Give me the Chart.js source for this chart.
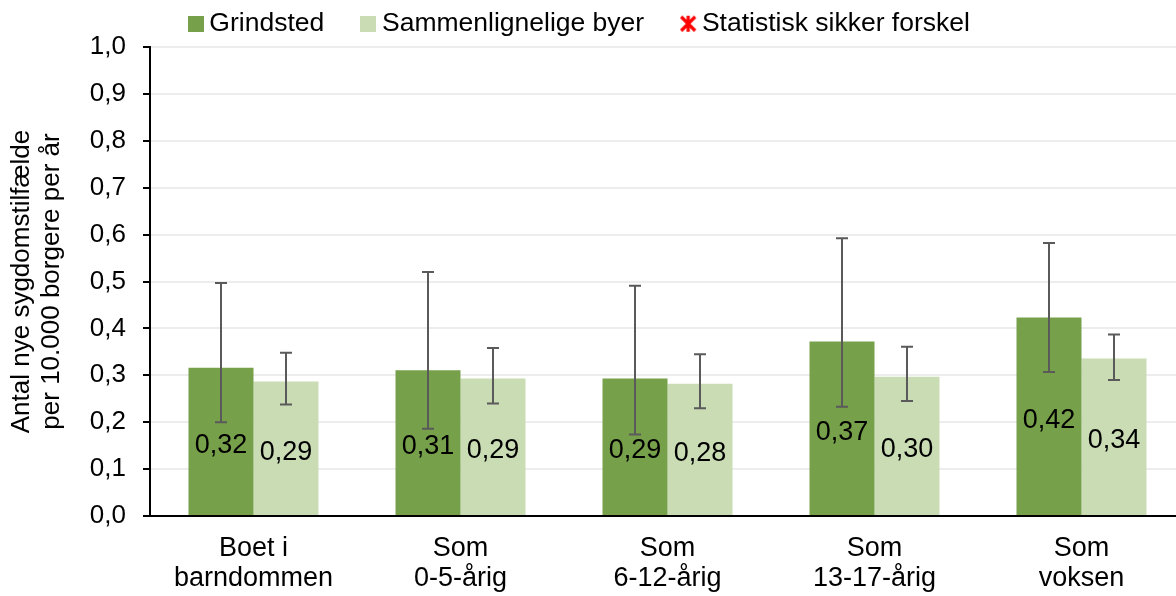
<!DOCTYPE html>
<html><head><meta charset="utf-8">
<script src="https://cdn.jsdelivr.net/npm/chart.js@4"></script>
<style>
html,body{margin:0;padding:0;overflow:hidden;background:#fff;width:1176px;height:596px;}
#wrap{position:absolute;left:-20px;top:-33px;width:1205px;height:629px;}
</style></head><body>
<div id="wrap"><canvas id="c" width="1205" height="629"></canvas></div>
<script>
// ---- data ----
const categories = [["Boet i","barndommen"],["Som","0-5-årig"],["Som","6-12-årig"],["Som","13-17-årig"],["Som","voksen"]];
const seriesNames = ["Grindsted","Sammenlignelige byer"];
const noteLabel = "Statistisk sikker forskel";
const grindsted     = [0.316,0.311,0.293,0.372,0.423];
const grindstedLow  = [0.200,0.186,0.174,0.233,0.307];
const grindstedHigh = [0.497,0.520,0.491,0.592,0.582];
const comparable     = [0.287,0.293,0.282,0.297,0.336];
const comparableLow  = [0.238,0.240,0.230,0.245,0.290];
const comparableHigh = [0.348,0.358,0.345,0.361,0.387];
const yTickLabels = ["0,0","0,1","0,2","0,3","0,4","0,5","0,6","0,7","0,8","0,9","1,0"];
const yTitle = ["Antal nye sygdomstilfælde","per 10.000 borgere per år"];

// ---- styles ----
const FONT = '"Liberation Sans", Arial, sans-serif';
const darkGreen = '#77A04A';
const lightGreen = '#C9DCB4';

function squareMarker(color){
  const c = document.createElement('canvas'); c.width = 16; c.height = 16;
  const x = c.getContext('2d'); x.fillStyle = color; x.fillRect(0,0,16,16); return c;
}
function starMarker(){
  const c = document.createElement('canvas'); c.width = 18; c.height = 18;
  const x = c.getContext('2d'); x.strokeStyle = '#FF0000'; x.lineWidth = 3.2; x.lineCap = 'butt';
  x.beginPath();
  x.moveTo(2,2); x.lineTo(16,16);
  x.moveTo(16,2); x.lineTo(2,16);
  x.moveTo(9,1); x.lineTo(9,17);
  x.stroke(); return c;
}
const markers = [squareMarker(darkGreen), squareMarker(lightGreen), starMarker()];

const errorBarPlugin = {
  id: 'errorBars',
  afterDatasetsDraw(chart){
    const ctx = chart.ctx, y = chart.scales.y;
    ctx.save();
    chart.data.datasets.forEach((ds, di) => {
      const meta = chart.getDatasetMeta(di);
      meta.data.forEach((bar, i) => {
        const yl = y.getPixelForValue(ds.errLow[i]);
        const yh = y.getPixelForValue(ds.errHigh[i]);
        ctx.strokeStyle = '#5A5A5A'; ctx.lineWidth = 2;
        ctx.beginPath();
        ctx.moveTo(bar.x, yl); ctx.lineTo(bar.x, yh);
        ctx.moveTo(bar.x - 6, yl); ctx.lineTo(bar.x + 6, yl);
        ctx.moveTo(bar.x - 6, yh); ctx.lineTo(bar.x + 6, yh);
        ctx.stroke();
      });
    });
    chart.data.datasets.forEach((ds, di) => {
      const meta = chart.getDatasetMeta(di);
      meta.data.forEach((bar, i) => {
        ctx.font = '27px ' + FONT; ctx.fillStyle = '#000';
        ctx.textAlign = 'center'; ctx.textBaseline = 'middle';
        ctx.fillText(ds.data[i].toFixed(2).replace('.', ','), bar.x, (bar.y + bar.base) / 2 + 4);
      });
    });
    ctx.restore();
  }
};

new Chart(document.getElementById('c'), {
  type: 'bar',
  data: {
    labels: categories,
    datasets: [
      {label: seriesNames[0], data: grindsted, errLow: grindstedLow, errHigh: grindstedHigh,
       backgroundColor: darkGreen, borderWidth: 0, categoryPercentage: 0.628, barPercentage: 1},
      {label: seriesNames[1], data: comparable, errLow: comparableLow, errHigh: comparableHigh,
       backgroundColor: lightGreen, borderWidth: 0, categoryPercentage: 0.628, barPercentage: 1}
    ]
  },
  options: {
    responsive: false, animation: false, devicePixelRatio: 1,
    layout: {padding: {top: 0, left: 0, right: 0, bottom: 0}},
    font: {family: FONT},
    plugins: {
      tooltip: {enabled: false},
      legend: {
        position: 'top', align: 'center',
        labels: {
          usePointStyle: true, pointStyleWidth: 1, padding: 43.5, color: '#000',
          font: {size: 26.5, family: FONT},
          generateLabels: () => [seriesNames[0], seriesNames[1], noteLabel].map((t, i) => ({
            text: t, pointStyle: markers[i], fillStyle: 'rgba(0,0,0,0)', strokeStyle: 'rgba(0,0,0,0)',
            lineWidth: 0, hidden: false, datasetIndex: i < 2 ? i : undefined, fontColor: '#000'
          }))
        }
      }
    },
    scales: {
      x: {
        grid: {display: false, drawTicks: false},
        border: {display: true, color: '#000', width: 2},
        ticks: {color: '#000', font: {size: 27, family: FONT, lineHeight: 30/27}, padding: 18, maxRotation: 0, autoSkip: false},
        afterFit: s => { s.height = 80; }
      },
      y: {
        min: 0, max: 1,
        ticks: {stepSize: 0.1, color: '#000', padding: 17, font: {size: 26, family: FONT},
                callback: v => yTickLabels[Math.round(v * 10)]},
        grid: {color: '#EDEDED', lineWidth: 2, tickColor: '#000', tickLength: 7, tickWidth: 2},
        border: {display: true, color: '#000', width: 2},
        title: {display: true, text: yTitle, color: '#000', font: {size: 26, family: FONT, lineHeight: 30/26}, padding: {top: 27, bottom: 5}},
        afterFit: s => { s.width = 170; }
      }
    }
  },
  plugins: [errorBarPlugin]
});
</script>
</body></html>
